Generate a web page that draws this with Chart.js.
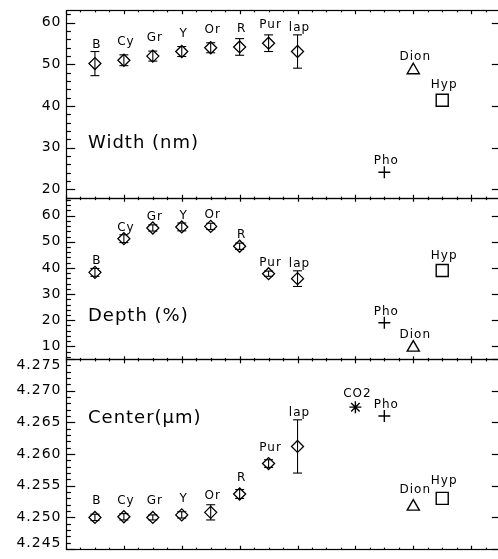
<!DOCTYPE html>
<html>
<head>
<meta charset="utf-8">
<script src="https://cdn.jsdelivr.net/npm/chart.js@4.4.1/dist/chart.umd.min.js"></script>
<style>
html, body { margin: 0; padding: 0; background: #fff; overflow: hidden; width: 498px; height: 559px; }
canvas { position: absolute; left: 0; }
</style>
</head>
<body>
<canvas id="chartWidth" width="510" height="210" style="top:0px"></canvas>
<canvas id="chartDepth" width="510" height="185" style="top:186px"></canvas>
<canvas id="chartCenter" width="510" height="212" style="top:347px"></canvas>
<script>
// band samples (diamonds with error bars)
const bandNames = ['B', 'Cy', 'Gr', 'Y', 'Or', 'R', 'Pur', 'lap'];
const bandX = [1, 2, 3, 4, 5, 6, 7, 8];

const widthVal = [50.2, 51.0, 52.0, 53.1, 54.0, 54.2, 55.1, 53.1];
const widthErr = [2.9, 1.3, 1.2, 1.2, 1.2, 2.0, 2.0, 4.0];
const depthVal = [38.3, 51.2, 55.3, 55.7, 55.9, 48.3, 37.8, 35.9];
const depthErr = [1.5, 1.5, 1.2, 1.5, 1.2, 1.2, 1.0, 3.0];
const centerVal = [4.2500, 4.2501, 4.2500, 4.2504, 4.2508, 4.2537, 4.2585, 4.2612];
const centerErr = [0.0005, 0.0005, 0.0004, 0.0005, 0.0012, 0.0007, 0.0006, 0.0042];

// other objects: [width, depth, center]
const co2X = 10, phoX = 11, dionX = 12, hypX = 13;
const phoVal = [24.1, 19.0, 4.2660];
const dionVal = [48.6, 9.5, 4.2517];
const hypVal = [41.4, 39.0, 4.2530];
const co2Center = 4.2674;

const widthTicks = [20, 30, 40, 50, 60];
const depthTicks = [10, 20, 30, 40, 50, 60];
const centerTicks = [4.245, 4.250, 4.255, 4.260, 4.265, 4.270, 4.275];

const FONT = '"DejaVu Sans", "Liberation Sans", sans-serif';

// IDL-like frame, inward ticks, error bars and point labels
const idl = {
    id: 'idl',
    afterDatasetsDraw(chart, args, o) {
        const { ctx, chartArea: a, scales: { x, y } } = chart;
        const L = Math.round(a.left) + 0.5, R = Math.round(a.right) + 0.5;
        const T = Math.round(a.top) + 0.5, B = Math.round(a.bottom) + 0.5;
        const line = (x1, y1, x2, y2) => { ctx.beginPath(); ctx.moveTo(x1, y1); ctx.lineTo(x2, y2); ctx.stroke(); };
        ctx.save();
        ctx.strokeStyle = '#000';
        ctx.fillStyle = '#000';

        // error bars
        ctx.lineWidth = 1.1;
        chart.data.datasets.forEach((ds) => {
            if (!ds.errors) return;
            ds.data.forEach((p, i) => {
                const px = x.getPixelForValue(p.x);
                const t = y.getPixelForValue(p.y + ds.errors[i]);
                const b = y.getPixelForValue(p.y - ds.errors[i]);
                line(px, t, px, b);
                line(px - 4.5, t, px + 4.5, t);
                line(px - 4.5, b, px + 4.5, b);
            });
        });

        // point labels
        ctx.font = '12px ' + FONT;
        ctx.letterSpacing = '1px';
        ctx.textAlign = 'center';
        ctx.textBaseline = 'alphabetic';
        chart.data.datasets.forEach((ds) => {
            ds.data.forEach((p, i) => {
                const px = x.getPixelForValue(p.x);
                let ty = y.getPixelForValue(p.y) - ds.gap;
                if (ds.errors) ty = Math.min(ty, y.getPixelForValue(p.y + ds.errors[i]) - 4);
                ctx.fillText(ds.names ? ds.names[i] : ds.label, px + 2, ty);
            });
        });

        // frame
        ctx.lineWidth = 1.2;
        ctx.strokeRect(L, T, R - L, B - T);

        // x ticks, top and bottom, pointing inward
        const xLen = (B - T) * 0.02;
        for (let k = 0; k <= 30; k++) {
            const px = Math.round(x.getPixelForValue(k * 0.5)) + 0.5;
            const len = k % 4 === 0 ? xLen : xLen / 2;
            line(px, B, px, B - len);
            line(px, T, px, T + len);
        }

        // y ticks, left with minors, right majors only
        const yLen = (R - L) * 0.02;
        const n0 = Math.ceil(y.min / o.minor - 1e-6), n1 = Math.floor(y.max / o.minor + 1e-6);
        for (let k = n0; k <= n1; k++) {
            const v = k * o.minor;
            const major = Math.abs(v / o.major - Math.round(v / o.major)) < 1e-6;
            const py = Math.round(y.getPixelForValue(v)) + 0.5;
            line(L, py, L + (major ? yLen : yLen / 2), py);
            if (major) line(R, py, R - yLen, py);
        }

        // tick labels
        ctx.font = '14px ' + FONT;
        ctx.textAlign = 'right';
        ctx.textBaseline = 'middle';
        o.ticks.forEach((v) => {
            let py = y.getPixelForValue(v);
            py = Math.max(a.top + 6, Math.min(a.bottom - 6, py));
            ctx.fillText(v.toFixed(o.decimals), L - 5, py);
        });

        // panel title
        ctx.font = '18px ' + FONT;
        ctx.textAlign = 'left';
        ctx.textBaseline = 'alphabetic';
        ctx.fillText(o.title, a.left + 22, a.top + o.titlePos * (a.bottom - a.top));
        ctx.restore();
    }
};

function band(vals, errs, gap) {
    return {
        label: 'bands',
        data: bandX.map((x, i) => ({ x: x, y: vals[i] })),
        errors: errs,
        names: bandNames,
        gap: gap,
        pointStyle: 'rectRot',
        pointRadius: 6,
        borderWidth: 1.3
    };
}

function single(name, x, v, style, r, gap) {
    return {
        label: name,
        data: [{ x: x, y: v }],
        gap: gap,
        pointStyle: style,
        pointRadius: r,
        borderWidth: 1.4
    };
}

function panel(id, yMin, yMax, pad, sets, idlOpts) {
    return new Chart(document.getElementById(id), {
        type: 'scatter',
        data: { datasets: sets },
        options: {
            responsive: false,
            animation: false,
            events: [],
            layout: { padding: pad },
            elements: {
                point: { backgroundColor: 'rgba(0,0,0,0)', borderColor: '#000' }
            },
            scales: {
                x: { type: 'linear', min: 0, max: 15, display: false },
                y: { type: 'linear', min: yMin, max: yMax, display: false }
            },
            plugins: {
                legend: { display: false },
                tooltip: { enabled: false },
                idl: idlOpts
            }
        },
        plugins: [idl]
    });
}

const widthChart = panel('chartWidth', 17.9, 63.1,
    { left: 66, right: 7, top: 5, bottom: 12 },
    [
        band(widthVal, widthErr, 15),
        single('Pho', phoX, phoVal[0], 'cross', 6, 8),
        single('Dion', dionX, dionVal[0], 'triangle', 7, 10),
        single('Hyp', hypX, hypVal[0], 'rect', 8.5, 12)
    ],
    { ticks: widthTicks, decimals: 0, major: 10, minor: 2, title: 'Width (nm)', titlePos: 0.734 });

const depthChart = panel('chartDepth', 5.14, 66.77,
    { left: 66, right: 7, top: 12, bottom: 12 },
    [
        band(depthVal, depthErr, 8),
        single('Pho', phoX, phoVal[1], 'cross', 6, 8),
        single('Dion', dionX, dionVal[1], 'triangle', 7, 10),
        single('Hyp', hypX, hypVal[1], 'rect', 8.5, 12)
    ],
    { ticks: depthTicks, decimals: 0, major: 10, minor: 2, title: 'Depth (%)', titlePos: 0.762 });

const centerChart = panel('chartCenter', 4.245, 4.275,
    { left: 66, right: 7, top: 12, bottom: 6 },
    [
        band(centerVal, centerErr, 13),
        single('CO2', co2X, co2Center, 'star', 6, 10),
        single('Pho', phoX, phoVal[2], 'cross', 6, 8),
        single('Dion', dionX, dionVal[2], 'triangle', 7, 14),
        single('Hyp', hypX, hypVal[2], 'rect', 8.5, 14)
    ],
    { ticks: centerTicks, decimals: 3, major: 0.005, minor: 0.001, title: 'Center(\u03bcm)', titlePos: 0.335 });
</script>
</body>
</html>
